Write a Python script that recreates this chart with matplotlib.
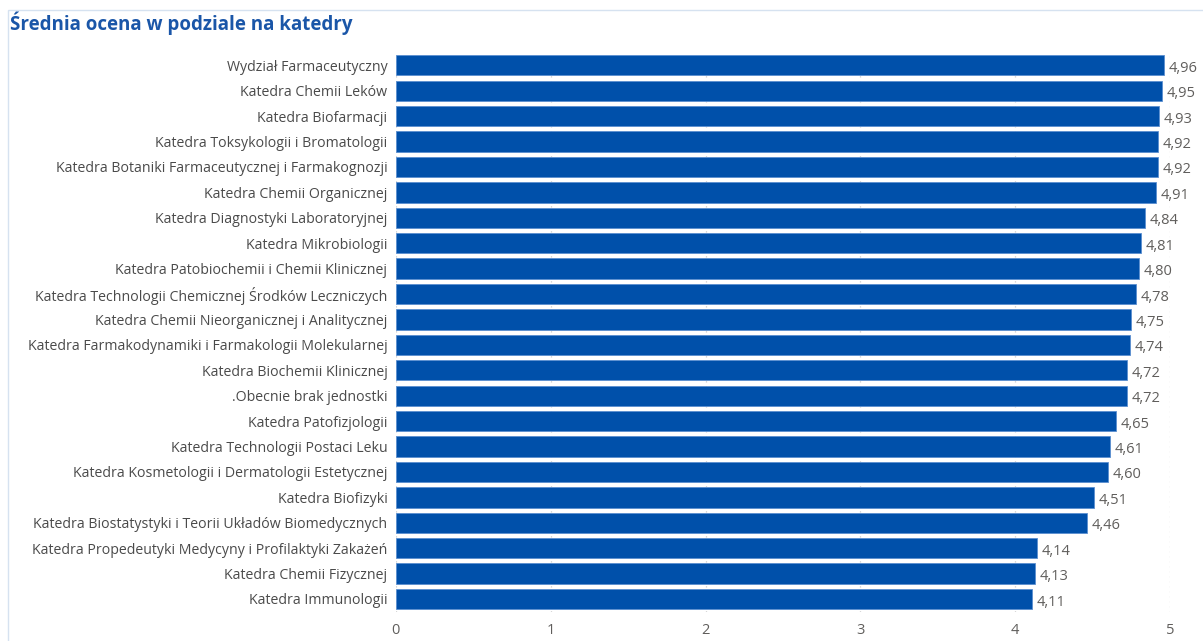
import matplotlib.pyplot as plt
from matplotlib.patches import Rectangle

# dane z wykresu
katedry = [
    'Wydział Farmaceutyczny',
    'Katedra Chemii Leków',
    'Katedra Biofarmacji',
    'Katedra Toksykologii i Bromatologii',
    'Katedra Botaniki Farmaceutycznej i Farmakognozji',
    'Katedra Chemii Organicznej',
    'Katedra Diagnostyki Laboratoryjnej',
    'Katedra Mikrobiologii',
    'Katedra Patobiochemii i Chemii Klinicznej',
    'Katedra Technologii Chemicznej Środków Leczniczych',
    'Katedra Chemii Nieorganicznej i Analitycznej',
    'Katedra Farmakodynamiki i Farmakologii Molekularnej',
    'Katedra Biochemii Klinicznej',
    '.Obecnie brak jednostki',
    'Katedra Patofizjologii',
    'Katedra Technologii Postaci Leku',
    'Katedra Kosmetologii i Dermatologii Estetycznej',
    'Katedra Biofizyki',
    'Katedra Biostatystyki i Teorii Układów Biomedycznych',
    'Katedra Propedeutyki Medycyny i Profilaktyki Zakażeń',
    'Katedra Chemii Fizycznej',
    'Katedra Immunologii',
]
oceny = [4.96, 4.95, 4.93, 4.92, 4.92, 4.91, 4.84, 4.81, 4.80, 4.78, 4.75,
         4.74, 4.72, 4.72, 4.65, 4.61, 4.60, 4.51, 4.46, 4.14, 4.13, 4.11]
x_ticks = [0, 1, 2, 3, 4, 5]

plt.rcParams['font.family'] = ['Open Sans', 'DejaVu Sans']

fig = plt.figure(figsize=(12.03, 6.41), dpi=100)
ax = fig.add_axes([0.329, 0.0457, 0.6437, 0.8723])

# ramka wokół wizualizacji
fig.patches.append(Rectangle((8 / 1203, -0.01), 1.2, 1 - 10 / 641 + 0.01,
                             transform=fig.transFigure, fill=False,
                             edgecolor='#d6e2f0', linewidth=1))

y = list(range(len(katedry)))
ax.barh(y, oceny, height=0.8, color='#0050AA', edgecolor='#5b8fd0',
        linewidth=0.6, zorder=3)

for yi, v in zip(y, oceny):
    ax.text(v + 0.03, yi + 0.12, f'{v:.2f}'.replace('.', ','), va='center',
            ha='left', fontsize=10.5, color='#605e5c')

ax.set_ylim(len(katedry) - 0.5, -0.5)
ax.set_xlim(0, 5)
ax.set_yticks(y)
ax.set_yticklabels(katedry, fontsize=10.2, color='#4a4a4a')
ax.set_xticks(x_ticks)
ax.set_xticklabels([str(t) for t in x_ticks], fontsize=10.5, color='#605e5c')
ax.tick_params(length=0, pad=6)
ax.tick_params(axis='x', pad=8)
ax.grid(axis='x', color='#cccccc', linestyle=(0, (1, 3)), linewidth=0.9, zorder=0)
for s in ax.spines.values():
    s.set_visible(False)

fig.text(10 / 1203, 1 - 23 / 641, 'Średnia ocena w podziale na katedry',
         fontsize=13.5, fontweight='bold', color='#1a56a8', va='center', ha='left')

fig.savefig('out.png', dpi=100)
